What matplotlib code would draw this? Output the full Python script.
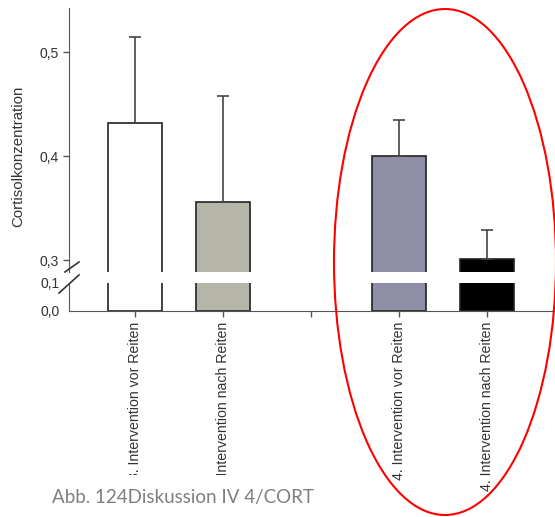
import matplotlib.pyplot as plt
from matplotlib.patches import Ellipse, Rectangle

plt.rcParams['font.family'] = ['Liberation Sans', 'DejaVu Sans']

# Cortisolwerte je Messzeitpunkt
labels = ['3. Intervention vor Reiten', '3. Intervention nach Reiten',
          '4. Intervention vor Reiten', '4. Intervention nach Reiten']
positions = [0, 1, 3, 4]
werte = [0.432, 0.356, 0.400, 0.301]
fehler = [0.082, 0.102, 0.035, 0.028]
farben = ['#ffffff', '#b5b5a8', '#8e8fa6', '#000000']

W, H = 555, 517
fig = plt.figure(figsize=(W / 100, H / 100), dpi=100)

def px_axes(x0, y0, x1, y1):
    return fig.add_axes([x0 / W, 1 - y1 / H, (x1 - x0) / W, (y1 - y0) / H])

ax_top = px_axes(69, 8, 555, 272)
ax_bot = px_axes(69, 283, 555, 311)

for ax in (ax_top, ax_bot):
    ax.bar(positions, werte, width=0.61, color=farben, edgecolor='#222222', linewidth=1.2, zorder=2)
    ax.set_xlim(-0.75, 4.77)
    for s in ('top', 'right'):
        ax.spines[s].set_visible(False)
    ax.spines['left'].set_color('#555555')
    ax.spines['bottom'].set_color('#555555')
    ax.tick_params(colors='#555555', labelcolor='#333333', labelsize=10, length=4, width=1)

ax_top.errorbar(positions, werte, yerr=[[0] * 4, fehler], fmt='none', ecolor='#444444',
                elinewidth=1.2, capsize=4.3, capthick=1.2, zorder=3)

ax_top.set_ylim(0.2885, 0.5423)
ax_top.set_yticks([0.3, 0.4, 0.5])
ax_top.set_yticklabels(['0,3', '0,4', '0,5'])
ax_top.spines['bottom'].set_visible(False)
ax_top.tick_params(axis='x', bottom=False, labelbottom=False)

fig.text(18 / W, 1 - 156 / H, 'Cortisolkonzentration', rotation=90, fontsize=10.8,
         color='#333333', ha='center', va='center')

ax_bot.set_ylim(0, 0.1)
ax_bot.set_yticks([0.0, 0.1])
ax_bot.set_yticklabels(['0,0', '0,1'])
ax_bot.tick_params(axis='y', length=0, pad=7)
ax_bot.set_xticks([0, 1, 2, 3, 4])
ax_bot.set_xticklabels([labels[0], labels[1], '', labels[2], labels[3]],
                       rotation=90, fontsize=10.2, va='top', ha='center')

# Achsenbruch
for (x0, y0, x1, y1) in [(65, 272, 79, 262), (59, 293, 79, 275)]:
    fig.add_artist(plt.Line2D([x0 / W, x1 / W], [1 - y0 / H, 1 - y1 / H],
                              color='#333333', linewidth=1.2))

# abgeschnittener unterer Bereich der Beschriftungen
fig.add_artist(Rectangle((0, 0), 360 / W, 1 - 475 / H, transform=fig.transFigure,
                         facecolor='white', edgecolor='none', zorder=5))

fig.text(52 / W, 1 - 503 / H, 'Abb. 124Diskussion IV 4/CORT', fontsize=13.5,
         family=['Lato', 'DejaVu Sans'], color='#7f7f7f', zorder=6)

# Markierung der 4. Intervention
fig.add_artist(Ellipse((445 / W, 1 - 262 / H), 222 / W, 506 / H, transform=fig.transFigure,
                       fill=False, edgecolor='red', linewidth=1.5, zorder=7))

fig.savefig('out.png', dpi=100)
